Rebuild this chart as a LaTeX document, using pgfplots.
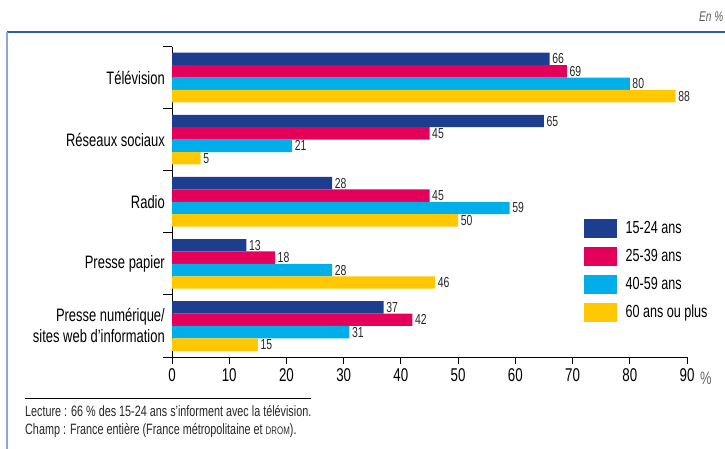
\documentclass[border=0pt]{standalone}
\usepackage{fontspec}
\setmainfont[FakeStretch=0.72]{Liberation Sans}
\usepackage{pgfplots}
\pgfplotsset{compat=1.18}
\definecolor{cA}{HTML}{1D3D8F}
\definecolor{cB}{HTML}{E4005A}
\definecolor{cC}{HTML}{00AFE9}
\definecolor{cD}{HTML}{FFC800}
\definecolor{frameTop}{HTML}{2E5FA8}
\definecolor{frameLeft}{HTML}{8AA8D4}
\begin{document}
\begin{tikzpicture}
\path[use as bounding box] (0,0) rectangle (725pt,-449pt);
\draw[color=frameTop, line width=1.3pt] (7pt,-32pt) -- (735pt,-32pt);
\draw[color=frameLeft, line width=1.3pt] (7pt,-32pt) -- (7pt,-460pt);
\node[anchor=base west, font=\fontsize{14}{14}\selectfont\itshape, text=black!65, inner sep=0pt] at (699pt,-22pt) {En \%};
\begin{axis}[
  at={(172pt,-357pt)}, anchor=south west,
  width=515pt, height=310.5pt, scale only axis,
  xmin=0, xmax=90, ymin=-0.5, ymax=4.5,
  xbar, bar width=0.2,
  clip=false,
  axis x line*=bottom, axis y line*=left,
  axis line style={-, line width=0.9pt, black},
  xtick={0,10,...,90},
  ytick={0,1,2,3,4},
  yticklabels={{Presse numérique/\\sites web d’information}, Presse papier, Radio, Réseaux sociaux, Télévision},
  minor ytick={-0.5,0.5,...,4.5},
  tick align=outside,
  major tick length=7pt, minor tick length=9pt,
  tick style={black, line width=0.9pt},
  every major y tick/.append style={draw=none},
  /pgf/number format/assume math mode=true,
  xticklabel style={font=\fontsize{18.5}{18.5}\selectfont, inner sep=4pt},
  yticklabel style={font=\fontsize{18}{21}\selectfont, align=right, inner sep=0pt},
  nodes near coords,
  nodes near coords style={font=\fontsize{14.5}{14.5}\selectfont, anchor=west, inner sep=2.5pt, text=black!85},
  legend cell align=left,
  legend style={at={(0.793,0.452)}, anchor=north west, draw=none, fill=none,
    font=\fontsize{17.5}{17.5}\selectfont, row sep=9pt, column sep=7pt},
  legend image code/.code={\fill[#1] (0pt,-9.5pt) rectangle (33pt,9.5pt);},
]
\addplot[fill=cA, draw=none, bar shift=0.3] coordinates {(37,0) (13,1) (28,2) (65,3) (66,4)};
\addplot[fill=cB, draw=none, bar shift=0.1] coordinates {(42,0) (18,1) (45,2) (45,3) (69,4)};
\addplot[fill=cC, draw=none, bar shift=-0.1] coordinates {(31,0) (28,1) (59,2) (21,3) (80,4)};
\addplot[fill=cD, draw=none, bar shift=-0.3] coordinates {(15,0) (46,1) (50,2) (5,3) (88,4)};
\legend{15-24 ans, 25-39 ans, 40-59 ans, 60 ans ou plus}
\node[anchor=base west, inner sep=0pt, text=black!60, font=\fontsize{18}{18}\selectfont] at (rel axis cs:1,0) [xshift=13pt, yshift=-27pt] {\%};
\end{axis}
\draw[line width=0.8pt] (25pt,-398pt) -- (311pt,-398pt);
\node[anchor=base west, inner sep=0pt, font=\fontsize{15}{15}\selectfont, text=black!85] at (25pt,-416pt) {Lecture : 66 \% des 15-24 ans s’informent avec la télévision.};
\node[anchor=base west, inner sep=0pt, font=\fontsize{15}{15}\selectfont, text=black!85] at (25pt,-434pt) {Champ : France entière (France métropolitaine et {\fontsize{11}{11}\selectfont DROM}).};
\end{tikzpicture}
\end{document}
